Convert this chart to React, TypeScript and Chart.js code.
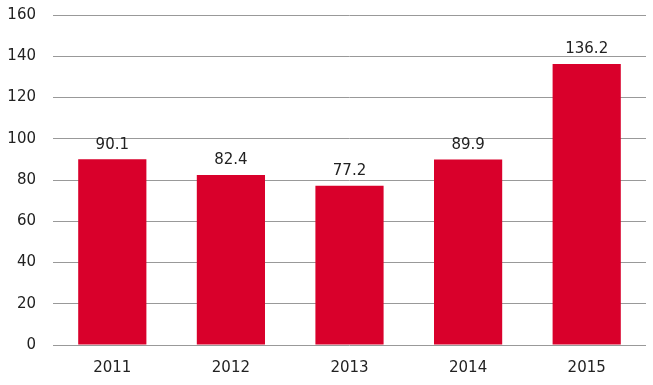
import React, { useEffect, useRef } from "react";
import { Chart, registerables } from "chart.js";

Chart.register(...registerables);

const categories = ["2011", "2012", "2013", "2014", "2015"];
const values = [90.1, 82.4, 77.2, 89.9, 136.2];
const yTicks = [0, 20, 40, 60, 80, 100, 120, 140, 160];

const FONT = "'DejaVu Sans', sans-serif";

const labelPlugin = {
  id: "barLabels",
  afterDatasetsDraw(chart: any) {
    const ctx = chart.ctx;
    const meta = chart.getDatasetMeta(0);
    ctx.save();
    ctx.font = `15px ${FONT}`;
    ctx.fillStyle = "#222";
    ctx.textAlign = "center";
    ctx.textBaseline = "bottom";
    meta.data.forEach((bar: any, i: number) => {
      ctx.fillText(values[i].toFixed(1), bar.x, bar.y - 7);
    });
    ctx.restore();
  },
};

export default function App() {
  const ref = useRef<HTMLCanvasElement>(null);
  useEffect(() => {
    const chart = new Chart(ref.current!, {
      type: "bar",
      data: {
        labels: categories,
        datasets: [
          {
            data: values,
            backgroundColor: "#D9002B",
            barPercentage: 0.575,
            categoryPercentage: 1,
          },
        ],
      },
      options: {
        animation: false,
        responsive: false,
        maintainAspectRatio: false,
        layout: { padding: { top: 15, right: 7, left: 0, bottom: 0 } },
        plugins: { legend: { display: false }, tooltip: { enabled: false } },
        scales: {
          x: {
            grid: { display: false },
            border: { display: false },
            ticks: { color: "#222", font: { family: FONT, size: 15 }, padding: 6 },
            afterFit: (s: any) => {
              s.height = 40;
              s.paddingLeft = 0;
              s.paddingRight = 0;
            },
          },
          y: {
            min: 0,
            max: 160,
            afterBuildTicks: (s: any) => {
              s.ticks = yTicks.map((v) => ({ value: v }));
            },
            grid: { color: "#999", drawTicks: false, lineWidth: 1 },
            border: { display: false },
            ticks: { color: "#222", font: { family: FONT, size: 15 }, padding: 17 },
            afterFit: (s: any) => {
              s.width = 53;
              s.paddingTop = 0;
              s.paddingBottom = 0;
            },
          },
        },
      },
      plugins: [labelPlugin],
    });
    return () => chart.destroy();
  }, []);
  return (
    <div style={{ position: "fixed", left: 0, top: 0, width: 653, height: 385, background: "#fff" }}>
      <canvas ref={ref} width={653} height={385} style={{ width: 653, height: 385 }} />
    </div>
  );
}
